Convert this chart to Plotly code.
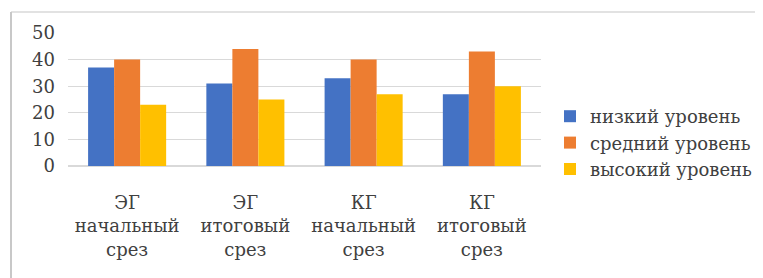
import plotly.graph_objects as go

categories = ["ЭГ<br>начальный<br>срез", "ЭГ<br>итоговый<br>срез", "КГ<br>начальный<br>срез", "КГ<br>итоговый<br>срез"]
low = [37, 31, 33, 27]
mid = [40, 44, 40, 43]
high = [23, 25, 27, 30]
series_names = ["низкий уровень", "средний уровень", "высокий уровень"]
colors = ["#4472C4", "#ED7D31", "#FFC000"]

fig = go.Figure()
for name, vals, c in zip(series_names, [low, mid, high], colors):
    fig.add_trace(go.Bar(x=categories, y=vals, name=name, marker_color=c, marker_line_width=0))

W, H = 763, 278
OFF = 8  # page body margin
L, T = 68 - OFF, 33 - OFF
PW, PH = 473, 133
R = W - L - PW
B = H - T - PH


def px(x):
    return (x - OFF - L) / PW


def py(y):
    return (T + PH - (y - OFF)) / PH


FONT = "DejaVu Serif"

fig.update_layout(
    width=W, height=H,
    margin=dict(l=L, r=R, t=T, b=B, autoexpand=False),
    paper_bgcolor="white", plot_bgcolor="white",
    barmode="group", bargap=0.34, bargroupgap=0,
    font=dict(family=FONT, color="#404040"),
    showlegend=True,
    legend=dict(x=px(550), y=py(143), xanchor="left", yanchor="middle",
                font=dict(family=FONT, size=18, color="#404040"), bgcolor="rgba(0,0,0,0)",
                itemwidth=30, traceorder="normal"),
    shapes=[
        dict(type="line", xref="paper", yref="paper", x0=px(11), x1=px(757), y0=py(12), y1=py(12),
             line=dict(color="#e2e2e2", width=2), layer="below"),
        dict(type="line", xref="paper", yref="paper", x0=px(11), x1=px(11), y0=py(12), y1=py(300),
             line=dict(color="#c8c8c8", width=2), layer="below"),
        dict(type="line", xref="paper", yref="paper", x0=px(757), x1=px(757), y0=py(12), y1=py(300),
             line=dict(color="#f0f0f0", width=1), layer="below"),
    ],
)
fig.update_yaxes(range=[0, 50], dtick=10, showgrid=True, gridcolor="#d9d9d9", gridwidth=1,
                 zeroline=True, zerolinecolor="#d9d9d9", showline=False, automargin=False,
                 ticklabelstandoff=12,
                 tickfont=dict(family=FONT, size=18, color="#404040"), ticks="", ticklen=0)
fig.update_xaxes(showgrid=False, showline=False, ticks="", automargin=False,
                 ticklabelstandoff=24,
                 tickfont=dict(family=FONT, size=18, color="#404040"))

fig.write_html("out.html")
